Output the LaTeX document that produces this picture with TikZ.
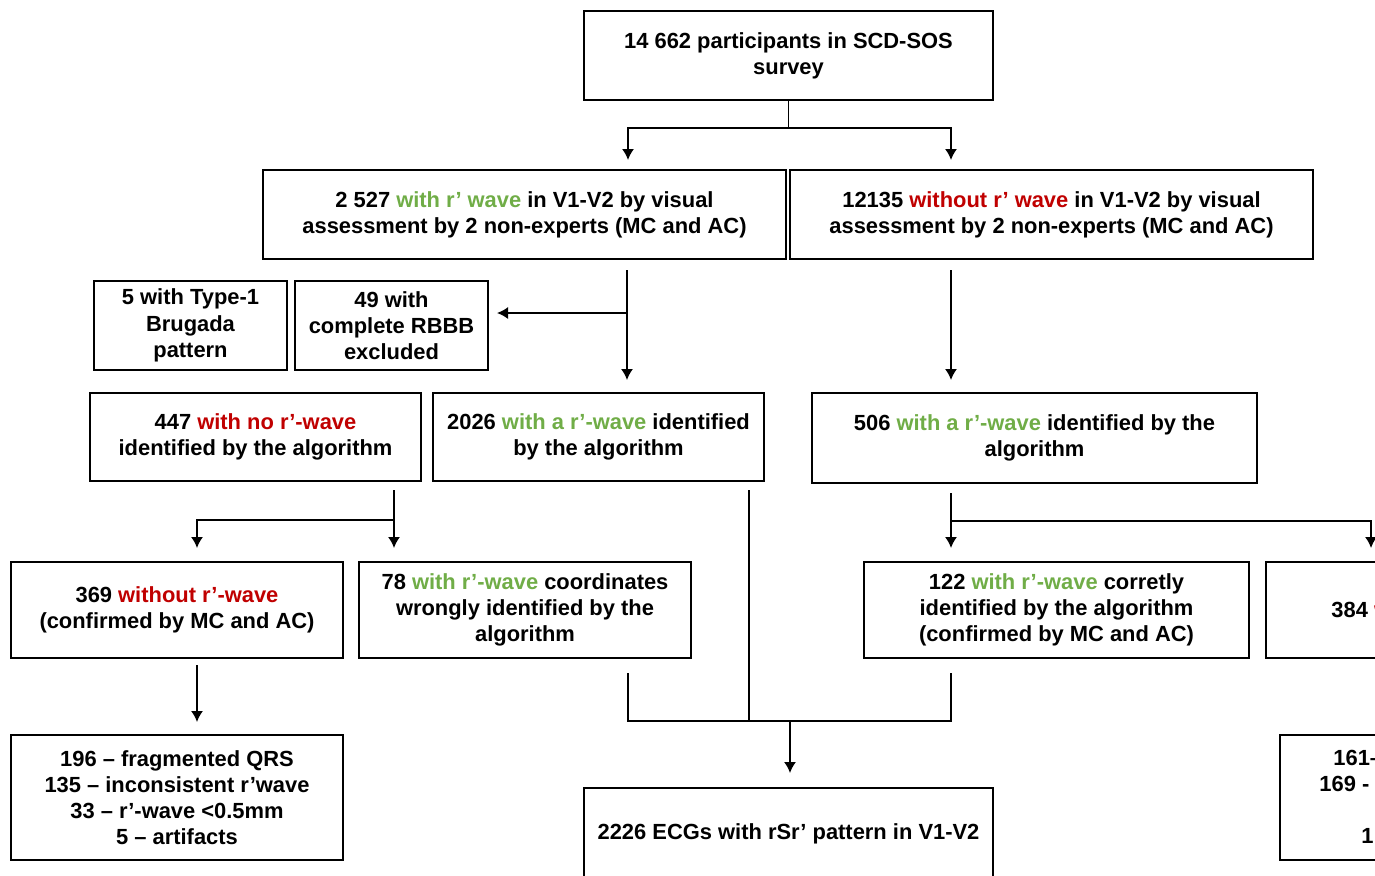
\documentclass[tikz,border=0pt]{standalone}
\usepackage{fontspec}
\setmainfont{Liberation Sans}
\usetikzlibrary{arrows.meta}
\definecolor{grn}{HTML}{70AD47}
\definecolor{rd}{HTML}{C00000}
\begin{document}
\begin{tikzpicture}[x=0.5pt,y=-0.5pt,
  box/.style={draw, line width=1pt, align=center, inner sep=0pt,
    font=\fontsize{10.95}{13.1}\selectfont\bfseries},
  lbl/.style={inner sep=0pt, anchor=base west,
    font=\fontsize{10.95}{13.1}\selectfont\bfseries},
  conn/.style={line width=0.8pt},
  arr/.style={conn, -{Latex[length=5.5pt,width=6pt]}}]
\useasboundingbox (0,0) rectangle (1375,875);
\clip (0,0) rectangle (1375,875);

% boxes
\node[box, minimum width=204.5pt, minimum height=44.5pt] (top) at (788.5,55.5)
  {14 662 participants in SCD-SOS\\survey};
\node[box, minimum width=261.5pt, minimum height=44.5pt] (A) at (524.5,214.5)
  {2 527 \textcolor{grn}{with r’ wave} in V1-V2 by visual\\assessment by 2 non-experts (MC and AC)};
\node[box, minimum width=261.5pt, minimum height=44.5pt] (B) at (1051.5,214.5)
  {12135 \textcolor{rd}{without r’ wave} in V1-V2 by visual\\assessment by 2 non-experts (MC and AC)};
\node[box, minimum width=96.5pt, minimum height=44.5pt] (T1) at (190.5,325.5)
  {5 with Type-1\\Brugada\\pattern};
\node[box, minimum width=96.5pt, minimum height=44.5pt] (R49) at (391.5,325.5)
  {49 with\\complete RBBB\\excluded};
\node[box, minimum width=165.5pt, minimum height=44pt] (N447) at (255.5,437)
  {447 \textcolor{rd}{with no r’-wave}\\identified by the algorithm};
\node[box, minimum width=165.5pt, minimum height=44pt] (N2026) at (598.5,437)
  {2026 \textcolor{grn}{with a r’-wave} identified\\by the algorithm};
\node[box, minimum width=222.5pt, minimum height=45pt] (N506) at (1034.5,438)
  {506 \textcolor{grn}{with a r’-wave} identified by the\\algorithm};
\node[box, minimum width=166pt, minimum height=48pt] (N369) at (177,610)
  {369 \textcolor{rd}{without r’-wave}\\(confirmed by MC and AC)};
\node[box, minimum width=166pt, minimum height=48pt] (N78) at (525,610)
  {78 \textcolor{grn}{with r’-wave} coordinates\\wrongly identified by the\\algorithm};
\node[box, minimum width=192.5pt, minimum height=48pt] (N122) at (1056.5,610)
  {122 \textcolor{grn}{with r’-wave} corretly\\identified by the algorithm\\(confirmed by MC and AC)};
\node[box, minimum width=192.5pt, minimum height=48pt] (N384) at (1458.5,610) {};
\node[lbl] (t384) at (1331,617) {384 \textcolor{rd}{w}};
\node[box, minimum width=166pt, minimum height=62.5pt] (N196) at (177,797.5)
  {196 – fragmented QRS\\135 – inconsistent r’wave\\33 – r’-wave <0.5mm\\5 – artifacts};
\node[box, minimum width=166pt, minimum height=62.5pt] (N161) at (1446,797.5) {};
\node[lbl] (t161a) at (1333,765) {161–};
\node[lbl] (t161b) at (1319,791) {169 -};
\node[lbl] (t161c) at (1361,843) {1};
\node[box, minimum width=204.5pt, minimum height=46pt] (N2226) at (788.5,834)
  {2226 ECGs with rSr’ pattern in V1-V2};

% connector points
\coordinate (j0) at (788.5,128);
\coordinate (eA) at (628,160);
\coordinate (eB) at (951,160);
\coordinate (sA) at (627,270);
\coordinate (jA) at (627,313);
\coordinate (e2026) at (627,380);
\coordinate (eR49) at (497,313);
\coordinate (sB) at (951,270);
\coordinate (e506) at (951,380);
\coordinate (s447) at (394,490);
\coordinate (j447) at (394,520);
\coordinate (e78) at (394,548);
\coordinate (e369) at (197,548);
\coordinate (s506) at (951,493);
\coordinate (j506) at (951,521);
\coordinate (e122) at (951,548);
\coordinate (e384) at (1371,548);
\coordinate (s369) at (197,665);
\coordinate (e196) at (197,722);
\coordinate (s78) at (628,673);
\coordinate (s122) at (951,673);
\coordinate (s2026) at (749,490);
\coordinate (j2026) at (749,721);
\coordinate (jm) at (790,721);
\coordinate (e2226) at (790,773);

% connectors
\draw[conn] (top.south) -- (j0);
\draw[arr] (j0) -| (eA);
\draw[arr] (j0) -| (eB);
\draw[arr] (sA) -- (e2026);
\draw[arr] (jA) -- (eR49);
\draw[arr] (sB) -- (e506);
\draw[arr] (s447) -- (e78);
\draw[arr] (j447) -| (e369);
\draw[arr] (s506) -- (e122);
\draw[arr] (j506) -| (e384);
\draw[arr] (s369) -- (e196);
\draw[conn] (s78) |- (jm) -| (s122);
\draw[conn] (s2026) -- (j2026);
\draw[arr] (jm) -- (e2226);
\end{tikzpicture}
\end{document}
